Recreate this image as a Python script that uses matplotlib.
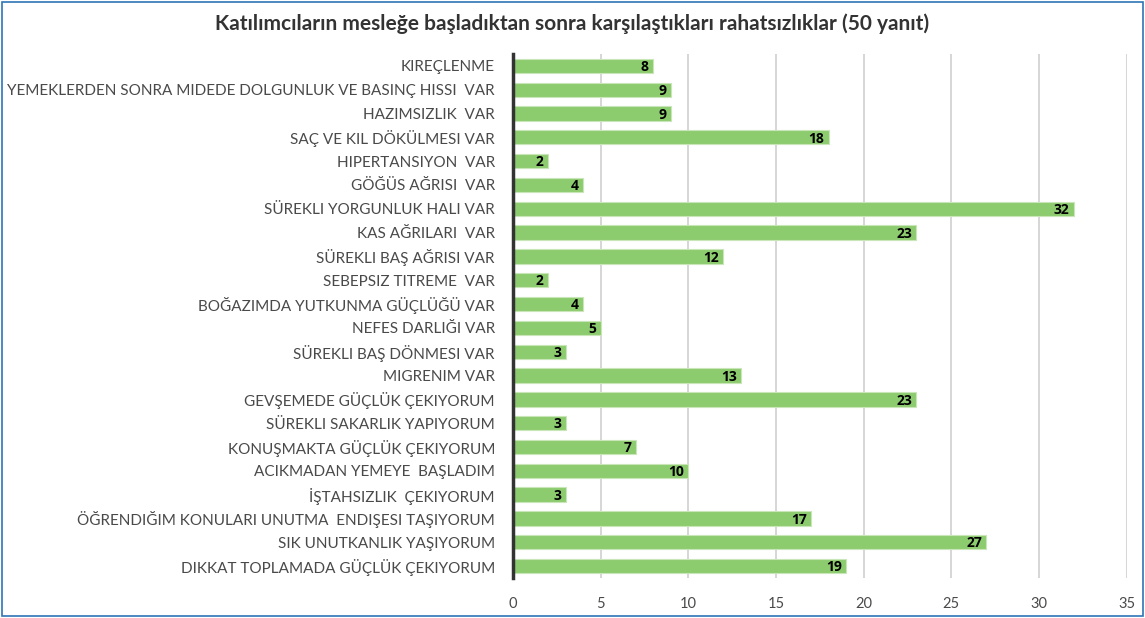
import matplotlib.pyplot as plt
from matplotlib.patches import Rectangle

# veriler (yukaridan asagiya)
labels = [
    "KIREÇLENME",
    "YEMEKLERDEN SONRA MIDEDE DOLGUNLUK VE BASINÇ HISSI  VAR",
    "HAZIMSIZLIK  VAR",
    "SAÇ VE KIL DÖKÜLMESI VAR",
    "HIPERTANSIYON  VAR",
    "GÖĞÜS AĞRISI  VAR",
    "SÜREKLI YORGUNLUK HALI VAR",
    "KAS AĞRILARI  VAR",
    "SÜREKLI BAŞ AĞRISI VAR",
    "SEBEPSIZ TITREME  VAR",
    "BOĞAZIMDA YUTKUNMA GÜÇLÜĞÜ VAR",
    "NEFES DARLIĞI VAR",
    "SÜREKLI BAŞ DÖNMESI VAR",
    "MIGRENIM VAR",
    "GEVŞEMEDE GÜÇLÜK ÇEKIYORUM",
    "SÜREKLI SAKARLIK YAPIYORUM",
    "KONUŞMAKTA GÜÇLÜK ÇEKIYORUM",
    "ACIKMADAN YEMEYE  BAŞLADIM",
    "İŞTAHSIZLIK  ÇEKIYORUM",
    "ÖĞRENDIĞIM KONULARI UNUTMA  ENDIŞESI TAŞIYORUM",
    "SIK UNUTKANLIK YAŞIYORUM",
    "DIKKAT TOPLAMADA GÜÇLÜK ÇEKIYORUM",
]
values = [8, 9, 9, 18, 2, 4, 32, 23, 12, 2, 4, 5, 3, 13, 23, 3, 7, 10, 3, 17, 27, 19]
x_ticks = [0, 5, 10, 15, 20, 25, 30, 35]

title = "Katılımcıların mesleğe başladıktan sonra karşılaştıkları rahatsızlıklar (50 yanıt)"

plt.rcParams['font.family'] = ['Lato', 'DejaVu Sans']

fig = plt.figure(figsize=(11.45, 6.18), dpi=100)
ax = fig.add_axes([0.448, 0.0647, 0.536, 0.848])

y = list(range(len(labels)))
ax.barh(y, values, height=0.6, color="#8CCB6E", edgecolor="#C8E6B8", linewidth=0.8, zorder=3)

for yi, v in zip(y, values):
    ax.text(v - 0.25, yi + 0.05, str(v), ha="right", va="center",
            fontsize=10, fontweight="bold", color="black", zorder=4,
            family=['Open Sans', 'DejaVu Sans'])

ax.set_xlim(0, 35)
ax.set_ylim(len(labels) - 0.5, -0.5)
ax.set_yticks(y)
ax.set_yticklabels(labels, fontsize=11, color="#4a4a4a")
ax.set_xticks(x_ticks)
ax.set_xticklabels([str(t) for t in x_ticks], fontsize=10.5, color="#4a4a4a")
ax.tick_params(axis="y", length=0, pad=13)
ax.tick_params(axis="x", length=0, pad=14)

ax.grid(axis="x", color="#D0D0D0", linewidth=1.2, zorder=0)
for s in ["top", "right", "bottom"]:
    ax.spines[s].set_visible(False)
ax.spines["left"].set_color("#333333")
ax.spines["left"].set_linewidth(2.5)
ax.spines["left"].set_zorder(5)

fig.text(0.5, 0.962, title, ha="center", va="center", fontsize=15,
         fontweight="bold", color="#333333")

# dis cerceve
fig.patches.append(Rectangle((0.002, 0.004), 0.996, 0.992, transform=fig.transFigure,
                             fill=False, edgecolor="#2E75B6", linewidth=1.2))

fig.savefig("out.png", dpi=100)
